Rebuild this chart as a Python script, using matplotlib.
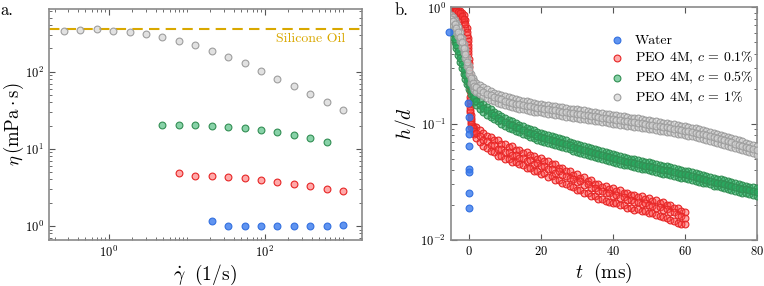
import matplotlib
matplotlib.use('Agg')
import matplotlib.pyplot as plt
import numpy as np
from matplotlib.ticker import LogLocator, NullFormatter, FixedLocator, LogFormatterSciNotation

plt.rcParams['font.family'] = ['cmr10', 'DejaVu Serif']
plt.rcParams['mathtext.fontset'] = 'cm'
plt.rcParams['axes.formatter.use_mathtext'] = True
plt.rcParams['axes.unicode_minus'] = False

# ---------------- panel a: viscosity vs shear rate ----------------
rate_1pct = [0.264, 0.430, 0.698, 1.13, 1.84, 2.99, 4.86, 7.90, 12.8, 20.9, 33.9, 55.1, 89.5, 145, 236, 384, 624, 1013]
eta_1pct = [339, 347, 351, 339, 323, 305, 282, 251, 221, 186, 153, 128, 101, 81, 65, 51, 40, 32]
rate_05pct = [4.86, 7.90, 12.8, 20.9, 33.9, 55.1, 89.5, 145, 236, 384, 624]
eta_05pct = [20.5, 20.3, 20.1, 19.7, 19.2, 18.6, 17.7, 16.5, 15.1, 13.8, 12.2]
rate_01pct = [7.90, 12.8, 20.9, 33.9, 55.1, 89.5, 145, 236, 384, 624, 1013]
eta_01pct = [4.86, 4.41, 4.41, 4.35, 4.19, 3.98, 3.75, 3.50, 3.27, 3.04, 2.81]
rate_water = [20.9, 33.9, 55.1, 89.5, 145, 236, 384, 624, 1013]
eta_water = [1.15, 0.99, 1.0, 1.0, 1.0, 1.01, 1.0, 1.0, 1.02]
eta_oil = 360

# ---------------- panel b: thinning h/d vs time ----------------
t_water = [-5.6, -0.25, -0.1, 0.0, 0.0, 0.0, 0.0, 0.0, 0.0, 0.0]
h_water = [0.62, 0.15, 0.115, 0.090, 0.082, 0.0645, 0.0404, 0.0385, 0.0251, 0.0188]

t_red = [-5.0, -4.5, -4.0, -3.5, -3.0, -2.5, -2.0, -1.5, -1.0, -0.6, -0.3, -0.15, 0.0, 0.1, 0.2,
         0.3, 0.4, 0.5, 0.7, 1.0, 1.5,
         2, 3, 4, 5, 6, 7, 8, 9, 10, 11, 12, 13, 14, 15, 16, 17, 18, 19, 20,
         21, 22, 23, 24, 25, 26, 27, 28, 29, 30, 31, 32, 33, 34, 35, 36, 37, 38, 39, 40,
         41, 42, 43, 44, 45, 46, 47, 48, 49, 50, 51, 52, 53, 54, 55, 56, 57, 58, 59, 60]
h_red_hi = [0.90, 0.97, 0.97, 0.96, 0.95, 0.93, 0.90, 0.86, 0.78, 0.66, 0.55, 0.45, 0.36, 0.28, 0.22,
            0.17, 0.14, 0.118, 0.104, 0.096, 0.092,
            0.094, 0.088, 0.084, 0.079, 0.077, 0.072, 0.072, 0.067, 0.067, 0.063, 0.064, 0.059, 0.060,
            0.056, 0.057, 0.054, 0.053, 0.050, 0.051,
            0.048, 0.048, 0.045, 0.045, 0.042, 0.042, 0.039, 0.039, 0.036, 0.037, 0.034, 0.0345, 0.032,
            0.0325, 0.030, 0.0305, 0.0288, 0.029, 0.0275, 0.028,
            0.0262, 0.0268, 0.0252, 0.0256, 0.0242, 0.0244, 0.0232, 0.0237, 0.0224, 0.023, 0.0216,
            0.0222, 0.0208, 0.0212, 0.0198, 0.020, 0.0188, 0.019, 0.0176, 0.0175]
h_red_mid = [0.85, 0.93, 0.94, 0.93, 0.91, 0.89, 0.85, 0.80, 0.72, 0.62, 0.51, 0.42, 0.33, 0.265, 0.205,
             0.16, 0.132, 0.112, 0.099, 0.091, 0.087,
             0.083, 0.079, 0.072, 0.071, 0.066, 0.065, 0.061, 0.061, 0.057, 0.057, 0.054, 0.054, 0.051,
             0.051, 0.048, 0.049, 0.045, 0.046, 0.043,
             0.0435, 0.041, 0.041, 0.038, 0.039, 0.036, 0.0355, 0.034, 0.0335, 0.0315, 0.032, 0.0298,
             0.030, 0.0282, 0.0282, 0.0266, 0.0264, 0.0252, 0.0251, 0.0238,
             0.0242, 0.0231, 0.0233, 0.022, 0.0222, 0.0211, 0.0212, 0.0203, 0.0206, 0.0198, 0.0197,
             0.0188, 0.0192, 0.0182, 0.0184, 0.0174, 0.0173, 0.0165, 0.016, 0.0154]
h_red_lo = [0.80, 0.88, 0.90, 0.89, 0.87, 0.84, 0.80, 0.75, 0.67, 0.58, 0.48, 0.40, 0.31, 0.25, 0.19,
            0.15, 0.125, 0.107, 0.094, 0.087, 0.082,
            0.075, 0.069, 0.064, 0.062, 0.058, 0.057, 0.053, 0.053, 0.050, 0.050, 0.047, 0.047, 0.045,
            0.044, 0.042, 0.042, 0.039, 0.039, 0.037,
            0.0375, 0.035, 0.0355, 0.033, 0.0328, 0.031, 0.0305, 0.029, 0.0287, 0.027, 0.0268, 0.0255,
            0.0252, 0.024, 0.0238, 0.0226, 0.0225, 0.0215, 0.0214, 0.0206,
            0.0207, 0.0198, 0.0198, 0.019, 0.019, 0.0182, 0.0183, 0.0176, 0.0176, 0.017, 0.0169,
            0.0163, 0.0162, 0.0157, 0.0154, 0.0149, 0.0145, 0.0141, 0.0137, 0.0136]

t_ms = [-5.0, -4.5, -4.0, -3.5, -3.0, -2.5, -2.0, -1.5, -1.0, -0.5, 0.0, 0.5, 1.0, 1.5,
        2, 3, 4, 5, 6, 7, 8, 9, 10, 11, 12, 13, 14, 15, 16, 17, 18, 19, 20,
        21, 22, 23, 24, 25, 26, 27, 28, 29, 30, 31, 32, 33, 34, 35, 36, 37, 38, 39, 40,
        41, 42, 43, 44, 45, 46, 47, 48, 49, 50, 51, 52, 53, 54, 55, 56, 57, 58, 59, 60,
        61, 62, 63, 64, 65, 66, 67, 68, 69, 70, 71, 72, 73, 74, 75, 76, 77, 78, 79, 80]

h_green_hi = [0.71, 0.65, 0.585, 0.52, 0.455, 0.40, 0.35, 0.313, 0.281, 0.254, 0.232, 0.211, 0.192, 0.178,
              0.168, 0.157, 0.148, 0.140, 0.134, 0.127, 0.122, 0.117, 0.112, 0.108, 0.105, 0.102, 0.098,
              0.095, 0.0923, 0.0896, 0.0875, 0.0853, 0.0832,
              0.0815, 0.0799, 0.0783, 0.0767, 0.0751, 0.0734, 0.0718, 0.0702, 0.0686, 0.067, 0.0656,
              0.0643, 0.063, 0.0617, 0.0605, 0.0593, 0.0581, 0.0569, 0.0557, 0.0545,
              0.0537, 0.0528, 0.0519, 0.0511, 0.0502, 0.0495, 0.0487, 0.048, 0.0472, 0.0464, 0.0457,
              0.0449, 0.0443, 0.0435, 0.0429, 0.0421, 0.0415, 0.0408, 0.0402, 0.0395,
              0.0389, 0.0382, 0.0376, 0.0369, 0.0363, 0.0356, 0.035, 0.0343, 0.0337, 0.0332, 0.0326,
              0.0321, 0.0315, 0.031, 0.0305, 0.0299, 0.0294, 0.0288, 0.0283, 0.0279]
h_green_mid = [0.66, 0.60, 0.54, 0.48, 0.42, 0.37, 0.325, 0.29, 0.26, 0.235, 0.215, 0.195, 0.178, 0.165,
               0.156, 0.145, 0.137, 0.130, 0.124, 0.118, 0.113, 0.108, 0.104, 0.100, 0.097, 0.094, 0.091,
               0.088, 0.0855, 0.083, 0.081, 0.079, 0.077,
               0.0755, 0.074, 0.0725, 0.071, 0.0695, 0.068, 0.0665, 0.065, 0.0635, 0.062, 0.0607,
               0.0595, 0.0583, 0.0571, 0.056, 0.0549, 0.0538, 0.0527, 0.0516, 0.0505,
               0.0497, 0.0489, 0.0481, 0.0473, 0.0465, 0.0458, 0.0451, 0.0444, 0.0437, 0.043, 0.0423,
               0.0416, 0.041, 0.0403, 0.0397, 0.039, 0.0384, 0.0378, 0.0372, 0.0366,
               0.036, 0.0354, 0.0348, 0.0342, 0.0336, 0.033, 0.0324, 0.0318, 0.0312, 0.0307, 0.0302,
               0.0297, 0.0292, 0.0287, 0.0282, 0.0277, 0.0272, 0.0267, 0.0262, 0.0258]
h_green_lo = [0.61, 0.555, 0.50, 0.445, 0.39, 0.343, 0.301, 0.268, 0.241, 0.218, 0.199, 0.181, 0.165, 0.153,
              0.144, 0.134, 0.127, 0.120, 0.115, 0.109, 0.105, 0.100, 0.0963, 0.0926, 0.0898, 0.087,
              0.0843, 0.0815, 0.0792, 0.0769, 0.075, 0.0731, 0.0713,
              0.0699, 0.0685, 0.0671, 0.0657, 0.0644, 0.063, 0.0616, 0.0602, 0.0588, 0.0574, 0.0562,
              0.0551, 0.054, 0.0529, 0.0519, 0.0508, 0.0498, 0.0488, 0.0478, 0.0468,
              0.046, 0.0453, 0.0445, 0.0438, 0.0431, 0.0424, 0.0418, 0.0411, 0.0405, 0.0398, 0.0392,
              0.0385, 0.038, 0.0373, 0.0368, 0.0361, 0.0356, 0.035, 0.0344, 0.0339,
              0.0333, 0.0328, 0.0322, 0.0317, 0.0311, 0.0306, 0.030, 0.0294, 0.0289, 0.0284, 0.028,
              0.0275, 0.027, 0.0266, 0.0261, 0.0256, 0.0252, 0.0247, 0.0243, 0.0239]

h_gray_hi = [0.87, 0.83, 0.785, 0.73, 0.675, 0.61, 0.545, 0.49, 0.436, 0.37, 0.316, 0.267, 0.245, 0.231,
             0.223, 0.214, 0.205, 0.197, 0.191, 0.185, 0.181, 0.177, 0.172, 0.169, 0.166, 0.162, 0.160,
             0.158, 0.156, 0.154, 0.152, 0.149, 0.148,
             0.146, 0.145, 0.143, 0.142, 0.140, 0.138, 0.137, 0.135, 0.134, 0.133, 0.131, 0.130, 0.128,
             0.127, 0.126, 0.124, 0.123, 0.122, 0.121, 0.119,
             0.118, 0.117, 0.116, 0.114, 0.113, 0.112, 0.111, 0.110, 0.108, 0.107, 0.106, 0.105, 0.104,
             0.102, 0.101, 0.100, 0.0989, 0.0977, 0.0965, 0.0952,
             0.0938, 0.0924, 0.091, 0.0896, 0.0881, 0.0865, 0.085, 0.0834, 0.0818, 0.0801, 0.0785,
             0.0768, 0.0752, 0.0736, 0.0719, 0.0704, 0.0689, 0.0674, 0.0659, 0.0645]
h_gray_mid = [0.80, 0.76, 0.72, 0.67, 0.62, 0.56, 0.50, 0.45, 0.40, 0.34, 0.29, 0.245, 0.225, 0.212,
              0.205, 0.196, 0.188, 0.181, 0.175, 0.170, 0.166, 0.162, 0.158, 0.155, 0.152, 0.149, 0.147,
              0.145, 0.143, 0.141, 0.139, 0.137, 0.136,
              0.134, 0.133, 0.1315, 0.130, 0.1285, 0.127, 0.1255, 0.124, 0.123, 0.122, 0.1205, 0.119,
              0.1178, 0.1166, 0.1154, 0.1142, 0.113, 0.1118, 0.1106, 0.1094,
              0.1083, 0.1072, 0.1061, 0.105, 0.1039, 0.1028, 0.1017, 0.1006, 0.0995, 0.0984, 0.0973,
              0.0962, 0.0951, 0.094, 0.0929, 0.0918, 0.0907, 0.0896, 0.0885, 0.0873,
              0.0861, 0.0848, 0.0835, 0.0822, 0.0808, 0.0794, 0.078, 0.0765, 0.075, 0.0735, 0.072,
              0.0705, 0.069, 0.0675, 0.066, 0.0646, 0.0632, 0.0618, 0.0605, 0.0592]
h_gray_lo = [0.734, 0.697, 0.66, 0.615, 0.569, 0.514, 0.459, 0.413, 0.367, 0.312, 0.266, 0.225, 0.206, 0.194,
             0.188, 0.180, 0.172, 0.166, 0.160, 0.156, 0.152, 0.149, 0.145, 0.142, 0.139, 0.137, 0.135,
             0.133, 0.131, 0.129, 0.127, 0.126, 0.125,
             0.123, 0.122, 0.121, 0.119, 0.118, 0.116, 0.115, 0.114, 0.113, 0.112, 0.110, 0.109, 0.108,
             0.107, 0.106, 0.105, 0.104, 0.103, 0.101, 0.100,
             0.0993, 0.0983, 0.0973, 0.0963, 0.0953, 0.0943, 0.0933, 0.0922, 0.0912, 0.0902, 0.0892,
             0.0882, 0.0872, 0.0862, 0.0852, 0.0842, 0.0832, 0.0822, 0.0812, 0.0801,
             0.079, 0.0778, 0.0766, 0.0754, 0.0741, 0.0728, 0.0715, 0.0702, 0.0688, 0.0674, 0.066,
             0.0647, 0.0633, 0.0619, 0.0605, 0.0592, 0.058, 0.0567, 0.0555, 0.0543]

labels = ['Water', r'PEO 4M, $c\,=\,0.1\%$', r'PEO 4M, $c\,=\,0.5\%$', r'PEO 4M, $c\,=\,1\%$']

# ---------------- styles ----------------
blue_f, blue_e = (0.22, 0.48, 0.93, 0.80), (0.20, 0.44, 0.88)
red_f, red_e = (1.0, 0.25, 0.25, 0.45), (0.90, 0.15, 0.15)
green_f, green_e = (0.15, 0.68, 0.38, 0.55), (0.20, 0.56, 0.33)
gray_f, gray_e = (0.82, 0.82, 0.82, 0.65), (0.62, 0.62, 0.62)
gold = '#d9a800'
spine_c = '#8a8a8a'
ms = 24

fig = plt.figure(figsize=(7.64, 2.86), dpi=100)
ax1 = fig.add_axes([0.064, 0.161, 0.4094, 0.8075])
ax2 = fig.add_axes([0.5903, 0.161, 0.4001, 0.8128])

def style(ax):
    for sp in ax.spines.values():
        sp.set_color(spine_c)
        sp.set_linewidth(1.2)
    ax.tick_params(which='both', direction='in', top=True, right=True, colors='#555555',
                   labelcolor='black', labelsize=9)
    ax.tick_params(which='major', length=4, width=0.8)
    ax.tick_params(which='minor', length=2, width=0.6)

# panel a
ax1.axhline(eta_oil, color=gold, lw=1.5, ls=(0, (5, 3)), zorder=1)
ax1.scatter(rate_1pct, eta_1pct, s=ms, facecolor=gray_f, edgecolor=gray_e, linewidth=0.8, zorder=3)
ax1.scatter(rate_05pct, eta_05pct, s=ms, facecolor=green_f, edgecolor=green_e, linewidth=0.8, zorder=3)
ax1.scatter(rate_01pct, eta_01pct, s=ms, facecolor=red_f, edgecolor=red_e, linewidth=0.8, zorder=3)
ax1.scatter(rate_water, eta_water, s=ms, facecolor=blue_f, edgecolor=blue_e, linewidth=0.8, zorder=3)
ax1.set_xscale('log')
ax1.set_yscale('log')
ax1.set_xlim(10**-0.771, 10**3.246)
ax1.set_ylim(10**-0.181, 10**2.81)
ax1.xaxis.set_major_locator(FixedLocator([1, 100]))
ax1.xaxis.set_minor_locator(LogLocator(base=10, subs=np.arange(1, 10), numticks=20))
ax1.xaxis.set_minor_formatter(NullFormatter())
ax1.yaxis.set_major_locator(FixedLocator([1, 10, 100]))
ax1.yaxis.set_minor_locator(LogLocator(base=10, subs=np.arange(2, 10), numticks=20))
ax1.yaxis.set_minor_formatter(NullFormatter())
ax1.xaxis.set_major_formatter(LogFormatterSciNotation())
ax1.yaxis.set_major_formatter(LogFormatterSciNotation())
style(ax1)
ax1.text(0.946, 0.870, 'Silicone Oil', color=gold, fontsize=10, ha='right', va='center',
         transform=ax1.transAxes)
ax1.set_xlabel(r'$\dot{\gamma}\ \ (1/\mathrm{s})$', fontsize=14, labelpad=2)
ax1.set_ylabel(r'$\eta\,(\mathrm{mPa\cdot s})$', fontsize=13.5, labelpad=-1)

# panel b
kw = dict(s=ms, linewidth=0.8)
for hh in (h_red_hi, h_red_lo, h_red_mid):
    ax2.scatter(t_red, hh, facecolor=red_f, edgecolor=red_e, **kw, zorder=2)
for hh in (h_green_hi, h_green_lo, h_green_mid):
    ax2.scatter(t_ms, hh, facecolor=green_f, edgecolor=green_e, **kw, zorder=3)
for hh in (h_gray_hi, h_gray_lo, h_gray_mid):
    ax2.scatter(t_ms, hh, facecolor=gray_f, edgecolor=gray_e, **kw, zorder=4)
ax2.scatter(t_water, h_water, facecolor=blue_f, edgecolor=blue_e, **kw, zorder=5, clip_on=False)
ax2.set_yscale('log')
ax2.set_xlim(-5, 80)
ax2.set_ylim(0.01, 1)
ax2.set_xticks([0, 20, 40, 60, 80])
ax2.yaxis.set_minor_locator(LogLocator(base=10, subs=np.arange(2, 10), numticks=20))
ax2.yaxis.set_minor_formatter(NullFormatter())
style(ax2)
ax2.set_xlabel(r'$t\ \ (\mathrm{ms})$', fontsize=14, labelpad=2)
ax2.set_ylabel(r'$h/d$', fontsize=14, labelpad=2)

handles = []
for f, e in [(blue_f, blue_e), (red_f, red_e), (green_f, green_e), (gray_f, gray_e)]:
    handles.append(ax2.scatter([], [], s=ms, facecolor=f, edgecolor=e, linewidth=0.8))
ax2.legend(handles, labels, loc='upper right', bbox_to_anchor=(1.018, 0.922), frameon=False,
           fontsize=10, handletextpad=0.3, labelspacing=0.25, borderaxespad=0.2)

fig.text(0.0, 0.99, 'a.', fontsize=12, ha='left', va='top')
fig.text(395 / 764, 0.99, 'b.', fontsize=12, ha='left', va='top')

fig.savefig('out.png', dpi=100)
